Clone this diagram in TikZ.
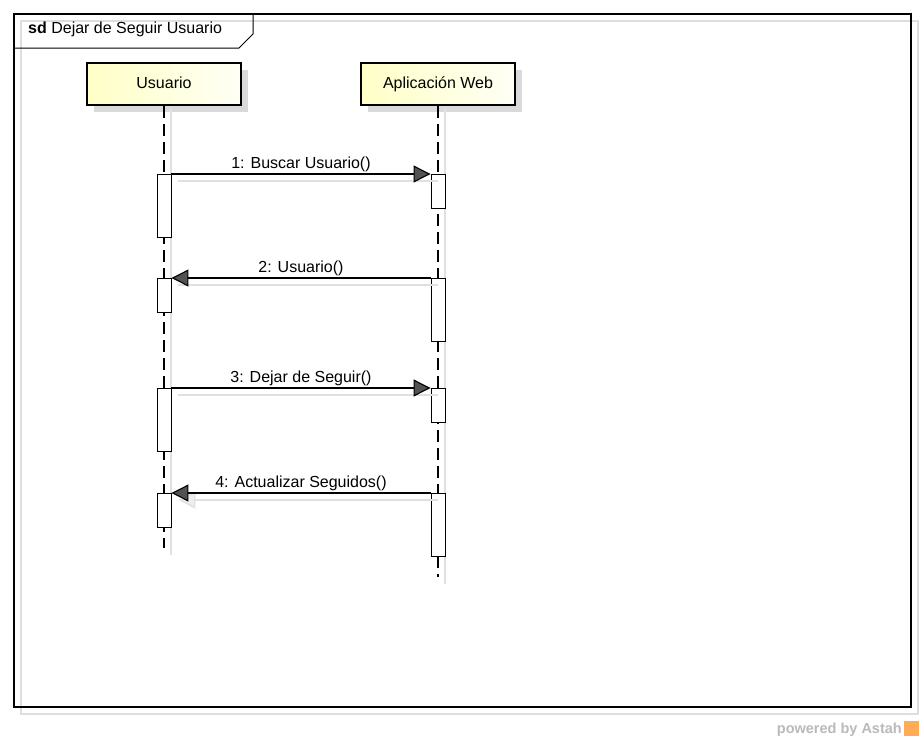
\documentclass[tikz,border=0pt]{standalone}
\usepackage{fontspec}
\setmainfont{Liberation Sans}
\usetikzlibrary{arrows.meta,shadows,calc}

\begin{document}
\begin{tikzpicture}[x=1pt,y=-1pt,
lifehead/.style={draw,line width=2.6pt,minimum width=154pt,minimum height=42pt,inner sep=0pt,
  left color=yellow!22,right color=yellow!4,font=\fontsize{16}{19}\selectfont,
  drop shadow={shadow xshift=7pt,shadow yshift=-7pt,fill=black!15,opacity=1}},
act/.style={draw,fill=white,line width=0.9pt,minimum width=14pt,inner sep=0pt,anchor=north},
longact/.style={act,minimum height=63pt},
shortact/.style={act,minimum height=34pt},
life/.style={line width=1.1pt,dash pattern=on 12pt off 6pt},
lifeshadow/.style={black!12,line width=1.2pt},
msg/.style={line width=1.1pt,-{Triangle[length=17pt,width=17pt,fill=black!68]}},
msgshadow/.style={black!12,line width=1.4pt,-{Triangle[length=17pt,width=17pt,fill=black!7]}},
lbl/.style={midway,above,inner sep=1.5pt,text=black,font=\fontsize{16}{19}\selectfont}
]
\fill[white] (0,0) rectangle (924,742);
\useasboundingbox (0,0) rectangle (924,742);
\draw[black!13,line width=1.2pt] (21,21) rectangle (918,714);
\draw[line width=1.3pt] (14,14) rectangle (911,707);
\draw[line width=1pt] (14,48) -- (239,48) -- (253,34) -- (253,14);
\node[anchor=base west,inner sep=0pt,font=\fontsize{16}{19}\selectfont] (0) at (28,33) {\textbf{sd} Dejar de Seguir Usuario};

\path
(164,84)  node[lifehead] (1) {\raisebox{2pt}{Usuario}}
+(0,464)  coordinate (3)
(438,84)  node[lifehead] (2) {\raisebox{2pt}{Aplicación Web}}
+(0,493)  coordinate (4)
;
\draw[lifeshadow] ([shift={(7,2)}]1.south)--([shift={(7,7)}]3) ([shift={(7,2)}]2.south)--([shift={(7,7)}]4);
\draw[life] (1.south)--(3) (2.south)--(4);

\path
(1)
+(0,90)   node[longact] (5) {}
+(0,194)  node[shortact] (8) {}
+(0,304)  node[longact] (9) {}
+(0,409)  node[shortact] (12) {}
(2)
+(0,90)   node[shortact] (6) {}
+(0,194)  node[longact] (7) {}
+(0,304)  node[shortact] (10) {}
+(0,409)  node[longact] (11) {}
;

\draw[msgshadow] ([shift={(7,7)}]5.north east)--([shift={(7,7)}]6.north west)
([shift={(7,7)}]7.north west)--([shift={(7,7)}]8.north east)
([shift={(7,7)}]9.north east)--([shift={(7,7)}]10.north west)
([shift={(7,7)}]11.north west)--([shift={(7,7)}]12.north east);

\draw[msg] (5.north east)--(6.north west) node[lbl] {1: Buscar Usuario()};
\draw[msg] (7.north west)--(8.north east) node[lbl] {2: Usuario()};
\draw[msg] (9.north east)--(10.north west) node[lbl] {3: Dejar de Seguir()};
\draw[msg] (11.north west)--(12.north east) node[lbl] {4: Actualizar Seguidos()};

\node[anchor=base east,inner sep=0pt,text=black!27,font=\bfseries\fontsize{14.5}{16}\selectfont] (13) at (902,733) {powered by Astah};
\node[fill=orange!65,minimum size=15pt,inner sep=0pt] (14) at (911,728) {};
\end{tikzpicture}
\end{document}
